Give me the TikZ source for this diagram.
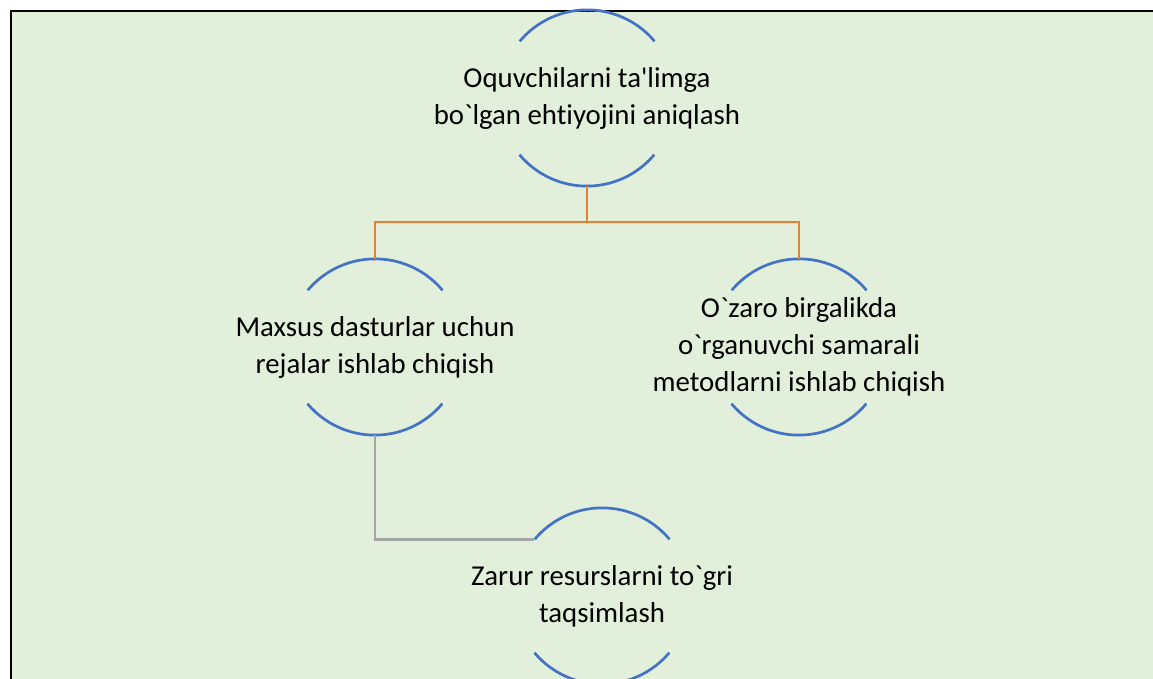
\documentclass[tikz,border=0pt]{standalone}
\usepackage{fontspec}
\newfontfamily\cf[Ligatures=NoCommon]{Carlito}
\definecolor{bg}{HTML}{E2EFDA}
\definecolor{arcblue}{HTML}{4472C4}
\definecolor{conorange}{HTML}{ED7D31}
\definecolor{congray}{HTML}{A5A5A5}
\begin{document}
\begin{tikzpicture}[x=1pt,y=1pt,
  ring/.style={circle,minimum size=176pt,inner sep=0pt},
  label text/.style={align=center,inner sep=0pt,
    font=\cf\fontsize{28.8}{37}\selectfont,text=black},
  rim/.style={draw=arcblue,line width=2.7pt},
  orangeline/.style={draw=conorange,line width=2.5pt},
  grayline/.style={draw=congray,line width=2.5pt}]
\useasboundingbox (0,0) rectangle (1153,679);
\fill[white] (0,0) rectangle (1153,679);
\fill[bg] (11,0) rectangle (1153,668);
\draw[black,line width=2pt] (11,0) -- (11,668) -- (1153,668);

\node[ring] (t) at (587,581) {};
\node[ring] (l) at (375,332) {};
\node[ring] (r) at (799,332) {};
\node[ring] (b) at (602,83) {};

\node[label text] (tt) at (t) {Oquvchilarni ta'limga\\bo`lgan ehtiyojini aniqlash};
\node[label text] (lt) at (l) {Maxsus dasturlar uchun\\rejalar ishlab chiqish};
\node[label text] (rt) at (r) {O`zaro birgalikda\\o`rganuvchi samarali\\metodlarni ishlab chiqish};
\node[label text] (bt) at (b) {Zarur resurslarni to`gri\\taqsimlash};

\foreach \n in {t,l,r,b}{
  \draw[rim] (\n.40) arc[start angle=40,end angle=140,radius=88pt];
  \draw[rim] (\n.220) arc[start angle=220,end angle=320,radius=88pt];
}

\coordinate (j) at (587,457);
\draw[orangeline] (t.south) -- (j);
\draw[orangeline] (l.north) |- (j) -| (r.north);
\draw[grayline] (l.south) |- (b.140);
\end{tikzpicture}
\end{document}
